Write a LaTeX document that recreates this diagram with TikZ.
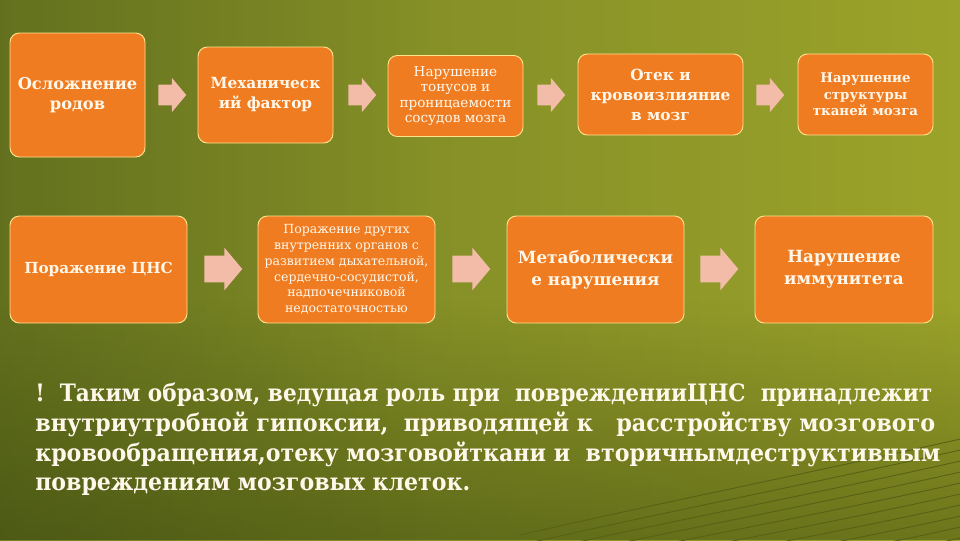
\documentclass[tikz,border=0pt]{standalone}
\usepackage{fontspec}
\usepackage{graphicx}
\setmainfont{DejaVu Serif}
\usetikzlibrary{shapes.arrows,fadings}
\definecolor{boxorange}{RGB}{240,124,34}
\definecolor{boxedge}{RGB}{255,226,140}
\definecolor{arrowpink}{RGB}{242,188,168}
\definecolor{bgleft}{RGB}{114,128,36}
\definecolor{bgright}{RGB}{156,163,42}
\definecolor{bgdark}{RGB}{50,62,10}
\definecolor{txt}{RGB}{255,248,234}
\definecolor{swooshcol}{RGB}{88,98,22}
\newlength\fitlen
\newcommand\fitline[2]{\settowidth\fitlen{#2}\scalebox{\fpeval{(#1)/\fitlen}}[1]{#2}}
\tikzset{
  box/.style={rectangle, rounded corners=7pt, fill=boxorange, draw=boxedge,
    line width=0.7pt, text=txt, align=center, inner sep=2pt},
  arrA/.style={single arrow, fill=arrowpink, draw=none, inner xsep=0pt,
    inner ysep=7.5pt, single arrow head extend=5.25pt, minimum height=21pt,
    single arrow tip angle=100, anchor=tail},
  arrB/.style={single arrow, fill=arrowpink, draw=none, inner xsep=0pt,
    inner ysep=9.75pt, single arrow head extend=6pt, minimum height=28.5pt,
    single arrow tip angle=100, anchor=tail},
  btxt/.style={text=txt, anchor=base west, inner sep=0pt,
    font=\bfseries\fontsize{18}{20}\selectfont},
  swoosh/.style={draw=swooshcol, line width=0.7pt}
}
\begin{document}
\begin{tikzpicture}[x=0.75pt,y=-0.75pt]
\useasboundingbox (0,0) rectangle (960,540);
% background
\fill[left color=bgleft, right color=bgright] (0,0) rectangle (960,540);
\fill[bgdark, path fading=north, fill opacity=0.45] (0,300) rectangle (960,540);
\fill[bgdark, path fading=east, fill opacity=0.22] (0,0) rectangle (420,540);
\begin{scope}
\clip (0,0) rectangle (960,540);
\foreach \i in {0,...,11}
  \draw[swoosh] (520,535+\i*10) .. controls (650,505+\i*10) and (800,475+\i*11) .. (965,438+\i*11);
\end{scope}
% row 1
\node[box, minimum width=101.25pt, minimum height=93pt,
  font=\bfseries\fontsize{12.2}{15}\selectfont] (b1) at (77.5,95) {Осложнение\\родов};
\node[box, minimum width=101.25pt, minimum height=72pt,
  font=\bfseries\fontsize{11.5}{15}\selectfont] (b2) at (265.5,95) {Механическ\\ий фактор};
\node[box, minimum width=101.25pt, minimum height=60.75pt,
  font=\fontsize{10.2}{11.6}\selectfont] (b3) at (455.5,96) {Нарушение\\тонусов и\\проницаемости\\сосудов мозга};
\node[box, minimum width=123.75pt, minimum height=60.75pt,
  font=\bfseries\fontsize{11.5}{15}\selectfont] (b4) at (660.5,94.5) {Отек и\\кровоизлияние\\в мозг};
\node[box, minimum width=101.25pt, minimum height=60.75pt,
  font=\bfseries\fontsize{10}{12.4}\selectfont] (b5) at (865.5,94.5) {Нарушение\\структуры\\тканей мозга};
% row 2
\node[box, minimum width=132.75pt, minimum height=80.25pt,
  font=\bfseries\fontsize{11.4}{16}\selectfont] (b6) at (98.5,269.5) {Поражение ЦНС};
\node[box, minimum width=132.75pt, minimum height=80.25pt,
  font=\fontsize{9.4}{11.85}\selectfont] (b7) at (346.5,269.5) {Поражение других\\внутренних органов с\\развитием дыхательной,\\сердечно-сосудистой,\\надпочечниковой\\недостаточностью};
\node[box, minimum width=132.75pt, minimum height=80.25pt,
  font=\bfseries\fontsize{12.6}{16.5}\selectfont] (b8) at (595.5,269.5) {Метаболически\\е нарушения};
\node[box, minimum width=133.5pt, minimum height=80.25pt,
  font=\bfseries\fontsize{12.6}{16.5}\selectfont] (b9) at (844,269.5) {Нарушение\\иммунитета};
% arrows
\node[arrA] (a1) at (158,95) {};
\node[arrA] (a2) at (348,95) {};
\node[arrA] (a3) at (537,95) {};
\node[arrA] (a4) at (756,95) {};
\node[arrB] (a5) at (204,269) {};
\node[arrB] (a6) at (452,269) {};
\node[arrB] (a7) at (700,269) {};
% bottom text
\node[btxt] (l1) at (35,401) {\fitline{897*0.75pt}{!\ \ Таким образом, ведущая роль при\ \ поврежденииЦНС\ \ принадлежит}};
\node[btxt] (l2) at (35,431) {\fitline{900*0.75pt}{внутриутробной гипоксии,\ \ приводящей к\ \ \ расстройству мозгового}};
\node[btxt] (l3) at (35,461) {\fitline{905*0.75pt}{кровообращения,отеку мозговойткани и\ \ вторичнымдеструктивным}};
\node[btxt] (l4) at (35,490) {\fitline{435*0.75pt}{повреждениям мозговых клеток.}};
\end{tikzpicture}
\end{document}
